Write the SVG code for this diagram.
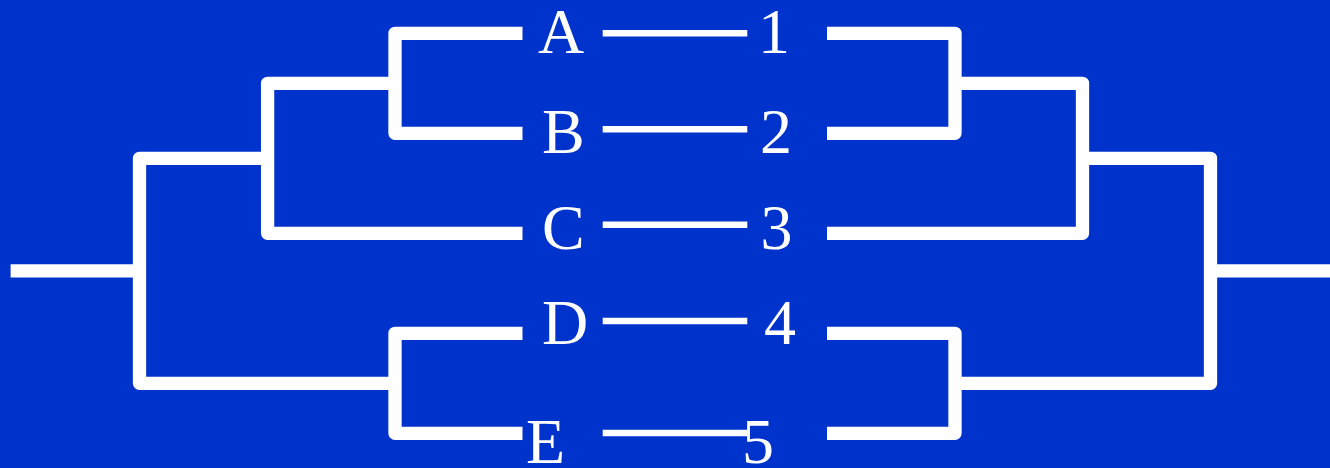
<svg xmlns="http://www.w3.org/2000/svg" width="1330" height="468" viewBox="0 0 1330 468">
  <style>
    .bk { fill: none; stroke: #ffffff; stroke-width: 13.3; stroke-linejoin: round; stroke-linecap: butt; }
    .ln { fill: none; stroke: #ffffff; stroke-width: 6.5; }
    .lb { fill: #ffffff; font-family: "Liberation Serif", "Times New Roman", serif; font-size: 64px; }
  </style>
  <rect x="0" y="0" width="1330" height="468" fill="#0033CC"/>
  <g id="connectors">
    <path class="bk" d="M522.5 33.3 H395 V133.3 H522.5"/>
    <path class="bk" d="M395 83.3 H267.6 V233.3 H522.5"/>
    <path class="bk" d="M522.5 333.3 H395 V433.3 H522.5"/>
    <path class="bk" d="M267.6 158.3 H139.5 V383.3 H395"/>
    <path class="bk" d="M10.6 270.8 H139.5"/>
    <path class="bk" d="M827 33.3 H955 V133.3 H827"/>
    <path class="bk" d="M955 83.3 H1082.5 V233.3 H827"/>
    <path class="bk" d="M827 333.3 H955 V433.3 H827"/>
    <path class="bk" d="M1082.5 158.3 H1210.5 V383.3 H955"/>
    <path class="bk" d="M1210.5 270.8 H1330"/>
    <line class="ln" x1="602.7" y1="33.3" x2="747.3" y2="33.3"/>
    <line class="ln" x1="602.7" y1="129.3" x2="747.3" y2="129.3"/>
    <line class="ln" x1="602.7" y1="224.7" x2="747.3" y2="224.7"/>
    <line class="ln" x1="602.7" y1="321" x2="747.3" y2="321"/>
    <line class="ln" x1="602.7" y1="433" x2="747.3" y2="433"/>
  </g>
  <g id="node-A"><text class="lb" x="538" y="53.3">A</text></g>
  <g id="node-B"><text class="lb" x="542" y="152.7">B</text></g>
  <g id="node-C"><text class="lb" x="542" y="249">C</text></g>
  <g id="node-D"><text class="lb" x="542" y="344.3">D</text></g>
  <g id="node-E"><text class="lb" x="526" y="463">E</text></g>
  <g id="node-1"><text class="lb" x="758" y="53.3">1</text></g>
  <g id="node-2"><text class="lb" x="760" y="152.7">2</text></g>
  <g id="node-3"><text class="lb" x="760.5" y="249">3</text></g>
  <g id="node-4"><text class="lb" x="764" y="344.3">4</text></g>
  <g id="node-5"><text class="lb" x="742" y="463">5</text></g>
</svg>
